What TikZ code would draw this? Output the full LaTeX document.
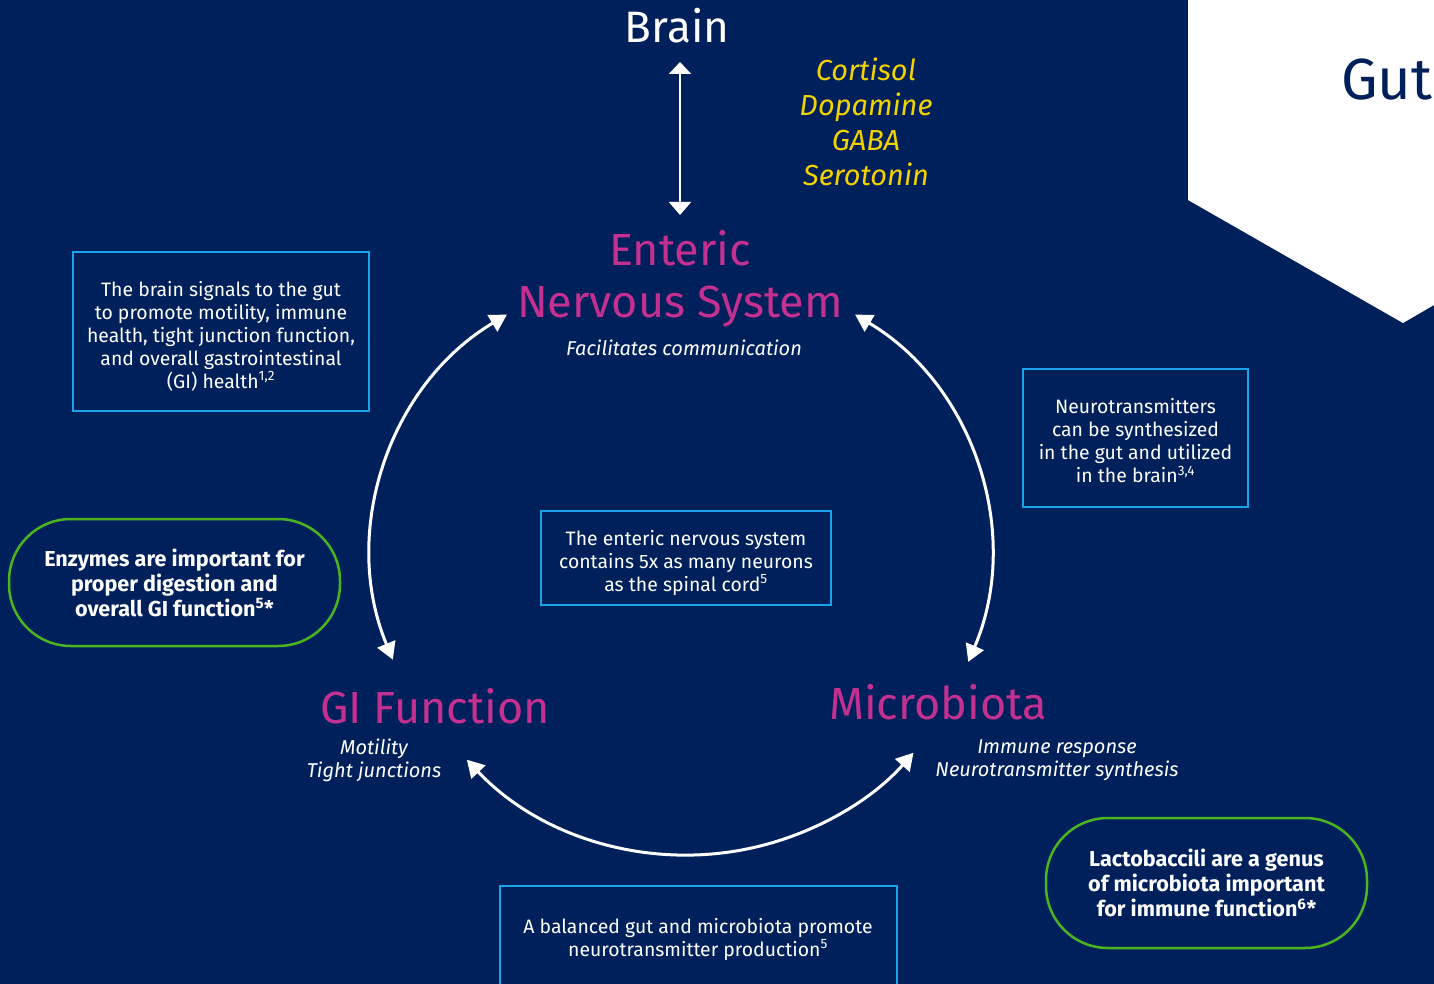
\documentclass[tikz,border=0pt]{standalone}
\usepackage{fontspec}
\setmainfont{Fira Sans}
\usepackage{tikz}
\usetikzlibrary{positioning, arrows.meta, calc}

\definecolor{bgnavy}{HTML}{00205B}
\definecolor{skyline}{HTML}{1AA3E8}
\definecolor{leafgreen}{HTML}{4BB520}
\definecolor{hubpink}{HTML}{C4308F}
\definecolor{signalgold}{HTML}{F2D200}

\begin{document}
\begin{tikzpicture}[
    x=1pt, y=-1pt,
    plaintext/.style={inner sep=0pt, align=center, text=white},
    boxline/.style={draw=skyline, line width=2.5pt},
    boxtext/.style={plaintext, font=\fontsize{19.4}{23}\selectfont},
    pillbox/.style={rectangle, rounded corners=62pt, draw=leafgreen, line width=2.5pt, align=center, text=white, font=\bfseries\fontsize{21.6}{25}\selectfont},
    hubtitle/.style={plaintext, text=hubpink, font=\fontsize{45}{52}\selectfont},
    subtitle/.style={plaintext, font=\itshape\fontsize{20}{23}\selectfont},
    cyclearrow/.style={draw=white, line width=3pt, {Triangle[length=17pt,width=19pt]}-{Triangle[length=17pt,width=19pt]}},
]
\useasboundingbox (0,0) rectangle (1434,984);
\fill[bgnavy] (0,0) rectangle (1434,984);

% gut tab, top right
\fill[white] (1188,0) -- (1434,0) -- (1434,305) -- (1403,323) -- (1188,200) -- cycle;
\node[plaintext, text=bgnavy, font=\fontsize{58}{60}\selectfont, anchor=base] (gut) at (1387,100) {Gut};

% brain and signals
\node[plaintext, font=\fontsize{44}{48}\selectfont, anchor=base] (brain) at (677,43) {Brain};
\node[plaintext, text=signalgold, font=\itshape\fontsize{29}{35}\selectfont] (signals) at (866,122) {Cortisol\\Dopamine\\GABA\\Serotonin};

% the three hubs
\node[hubtitle] (ens) at (680,279) {Enteric\\Nervous System};
\node[subtitle] (enssub) at (684,348) {Facilitates communication};
\node[hubtitle] (gifunc) at (435,706) {GI Function};
\node[subtitle] (gisub) at (374,760) {Motility\\Tight junctions};
\node[hubtitle] (micro) at (938,702) {Microbiota};
\node[subtitle] (microsub) at (1057,760) {Immune response\\Neurotransmitter synthesis};

% boxes
\draw[boxline] (73,252) rectangle (369,411);
\node[boxtext] (brainbox) at (221,336) {The brain signals to the gut\\to promote motility, immune\\health, tight junction function,\\and overall gastrointestinal\\(GI) health\textsuperscript{1,2}};
\draw[boxline] (1023,369) rectangle (1248,507);
\node[boxtext] (neurobox) at (1135.5,441) {Neurotransmitters\\can be synthesized\\in the gut and utilized\\in the brain\textsuperscript{3,4}};
\draw[boxline] (541,511) rectangle (831,605);
\node[boxtext] (ensbox) at (686,563) {The enteric nervous system\\contains 5x as many neurons\\as the spinal cord\textsuperscript{5}};
\draw[boxline] (500,886) rectangle (897,1000);
\node[boxtext] (balancebox) at (698,939) {A balanced gut and microbiota promote\\neurotransmitter production\textsuperscript{5}};
\node[pillbox, minimum width=331pt, minimum height=127pt] (enzymepill) at (174.5,582.5) {Enzymes are important for\\proper digestion and\\overall GI function\textsuperscript{5}*};
\node[pillbox, minimum width=321pt, minimum height=130pt] (lactopill) at (1206.5,883) {Lactobaccili are a genus\\of microbiota important\\for immune function\textsuperscript{6}*};

% arrows
\coordinate (brainfoot) at (680,62);
\coordinate (enshead) at (680,215);
\draw[white, line width=2pt, {Triangle[length=12pt,width=22pt]}-{Triangle[length=13pt,width=22pt]}] (brainfoot) -- (enshead);
\coordinate (leftpivot) at (649,553);
\coordinate (rightpivot) at (713,553);
\coordinate (lowpivot) at (687,553);
\draw[cyclearrow] (leftpivot) ++(-120.8:277.5) arc[start angle=-120.8, end angle=-202.6, radius=277.5];
\draw[cyclearrow] (rightpivot) ++(-59.2:277.5) arc[start angle=-59.2, end angle=23.1, radius=277.5];
\draw[cyclearrow] (lowpivot) ++(-223.2:302) arc[start angle=-223.2, end angle=-318.6, radius=302];
\end{tikzpicture}
\end{document}
